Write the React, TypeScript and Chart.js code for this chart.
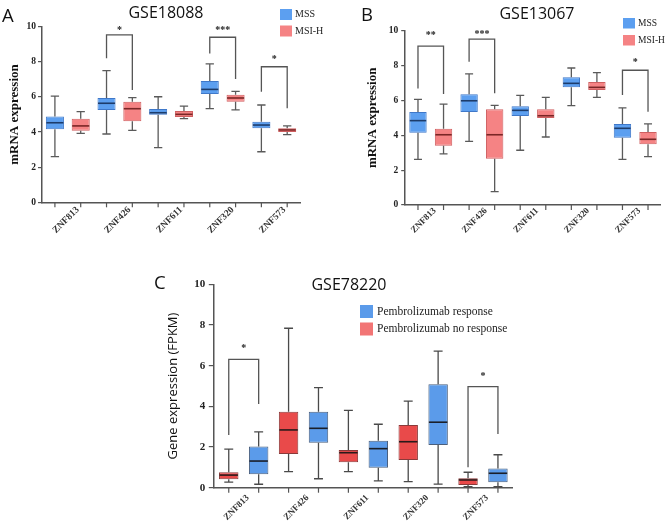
import React, { useEffect, useRef } from 'react';
import { Chart, registerables } from 'chart.js';

Chart.register(...registerables);

// ---------------- DATA ----------------
const genes = ['ZNF813', 'ZNF426', 'ZNF611', 'ZNF320', 'ZNF573'];
const yMin = 0;
const yMax = 10;
const yStep = 2;

// box statistics per gene: [min, q1, median, q3, max]
const gse18088Mss = [
  [2.6, 4.16, 4.53, 4.88, 6.05],
  [3.89, 5.26, 5.64, 5.94, 7.5],
  [3.11, 4.99, 5.1, 5.31, 6.01],
  [5.33, 6.17, 6.43, 6.91, 7.88],
  [2.88, 4.21, 4.4, 4.59, 5.54],
];
const gse18088Msi = [
  [3.93, 4.08, 4.35, 4.76, 5.16],
  [4.1, 4.61, 5.33, 5.73, 5.96],
  [4.76, 4.86, 5.01, 5.2, 5.48],
  [5.26, 5.73, 5.94, 6.13, 6.32],
  [3.85, 4.0, 4.12, 4.21, 4.35],
];
const gse13067Mss = [
  [2.62, 4.15, 4.84, 5.34, 6.06],
  [3.65, 5.34, 5.98, 6.35, 7.52],
  [3.14, 5.1, 5.43, 5.66, 6.29],
  [5.7, 6.75, 6.98, 7.33, 7.86],
  [2.62, 3.86, 4.4, 4.65, 5.57],
];
const gse13067Msi = [
  [2.93, 3.4, 4.03, 4.38, 5.79],
  [0.77, 2.66, 4.03, 5.49, 5.72],
  [3.9, 4.99, 5.12, 5.49, 6.18],
  [6.18, 6.6, 6.75, 7.06, 7.59],
  [2.77, 3.48, 3.77, 4.19, 4.65],
];
const gse78220NoResponse = [
  [0.27, 0.41, 0.62, 0.76, 1.9],
  [0.79, 1.66, 2.84, 3.74, 7.84],
  [0.79, 1.25, 1.72, 1.85, 3.8],
  [0.3, 1.36, 2.26, 3.08, 4.26],
  [0.05, 0.13, 0.38, 0.46, 0.76],
];
const gse78220Response = [
  [0.17, 0.66, 1.31, 2.03, 2.74],
  [0.44, 2.21, 2.92, 3.74, 4.92],
  [0.34, 0.98, 1.92, 2.31, 3.12],
  [0.18, 2.1, 3.22, 5.08, 6.71],
  [0.05, 0.27, 0.71, 0.95, 1.62],
];

// significance brackets: [gene index, bracket level, left leg end, right leg end, star level]
const gse18088Brackets = [
  [1, 9.53, 8.2, 6.4, 9.9],
  [3, 9.4, 8.48, 7.02, 9.9],
  [4, 7.72, 6.3, 5.35, 8.3],
];
const gse18088Stars = ['*', '***', '*'];
const gse13067Brackets = [
  [0, 9.12, 6.69, 6.37, 9.85],
  [1, 9.52, 8.22, 6.41, 9.94],
  [4, 7.73, 6.31, 5.35, 8.32],
];
const gse13067Stars = ['**', '***', '*'];
const gse78220Brackets = [
  [0, 6.31, 2.59, 4.12, 6.98],
  [4, 4.97, 1.0, 2.64, 5.59],
];
const gse78220Stars = ['*', '*'];

// ---------------- STYLES / LAYOUT ----------------
const SERIF = '"Liberation Serif", "Times New Roman", serif';
const SANS = '"Open Sans", "Liberation Sans", Arial, sans-serif';
const AXIS = '#555555';

interface SeriesDef {
  name: string;
  stats: number[][];
  fill: string;
  border: string;
  median: string;
  legendFill: string;
}

interface PanelDef {
  key: string;
  x: number; y: number; w: number; h: number;
  chartLeft: number; chartTop: number; chartRight: number; chartBottom: number;
  letter: string; letterX: number; letterY: number; letterSize: number;
  title: string; titleX: number; titleY: number;
  yTitle: string; yTitleFont: any; yTitlePad: number;
  yTickFont: any; yTickPad: number; yTickLen: number;
  xTickFont: any; xLabelOffset: number; xLabelPad: number;
  series: SeriesDef[];
  legendOrder: number[];
  legendX: number; legendY: number[]; legendSize: [number, number]; legendTextX: number; legendFont: string;
  brackets: number[][]; stars: string[];
  barPct: number;
  whisker: string;
}

const blueA = { fill: '#5c9ff0', border: '#3f78c9', median: '#1d3c6b', legendFill: '#5c9ff0' };
const redA = { fill: '#f58384', border: '#cf5f60', median: '#7a2626', legendFill: '#f58384' };

const panels: PanelDef[] = [
  {
    key: 'A', x: 0, y: 0, w: 330, h: 262,
    chartLeft: 42, chartTop: 26.7, chartRight: 300.1, chartBottom: 202.3,
    letter: 'A', letterX: 2, letterY: 22, letterSize: 18.5,
    title: 'GSE18088', titleX: 166, titleY: 17.5,
    yTitle: 'mRNA expression', yTitleFont: { family: SERIF, size: 13, weight: 'bold' }, yTitlePad: 7,
    yTickFont: { family: SERIF, size: 9.5, weight: 'bold' }, yTickPad: 2, yTickLen: 4,
    xTickFont: { family: SERIF, size: 9.5, weight: 'bold' }, xLabelOffset: 10, xLabelPad: 2,
    series: [
      { name: 'MSS', stats: gse18088Mss, ...blueA },
      { name: 'MSI-H', stats: gse18088Msi, ...redA },
    ],
    legendOrder: [0, 1],
    legendX: 280, legendY: [9, 25.5], legendSize: [12, 11], legendTextX: 295, legendFont: `10px ${SERIF}`,
    brackets: gse18088Brackets, stars: gse18088Stars,
    barPct: 0.7, whisker: '#5a5a5a',
  },
  {
    key: 'B', x: 330, y: 0, w: 339, h: 262,
    chartLeft: 75.2, chartTop: 30.7, chartRight: 330.8, chartBottom: 205,
    letter: 'B', letterX: 31, letterY: 20.5, letterSize: 18.5,
    title: 'GSE13067', titleX: 207, titleY: 18.5,
    yTitle: 'mRNA expression', yTitleFont: { family: SERIF, size: 13, weight: 'bold' }, yTitlePad: 35,
    yTickFont: { family: SERIF, size: 9.5, weight: 'bold' }, yTickPad: 3, yTickLen: 4,
    xTickFont: { family: SERIF, size: 9, weight: 'bold' }, xLabelOffset: 4, xLabelPad: 0.5,
    series: [
      { name: 'MSS', stats: gse13067Mss, ...blueA },
      { name: 'MSI-H', stats: gse13067Msi, ...redA },
    ],
    legendOrder: [0, 1],
    legendX: 293, legendY: [18, 35], legendSize: [12, 10.5], legendTextX: 308, legendFont: `9.5px ${SERIF}`,
    brackets: gse13067Brackets, stars: gse13067Stars,
    barPct: 0.68, whisker: '#5a5a5a',
  },
  {
    key: 'C', x: 150, y: 250, w: 380, h: 277,
    chartLeft: 63.8, chartTop: 34.3, chartRight: 362.9, chartBottom: 237.7,
    letter: 'C', letterX: 4, letterY: 38.5, letterSize: 18.5,
    title: 'GSE78220', titleX: 199, titleY: 40,
    yTitle: 'Gene expression (FPKM)', yTitleFont: { family: SANS, size: 13 }, yTitlePad: 15,
    yTickFont: { family: SERIF, size: 11, weight: 'bold' }, yTickPad: 3.5, yTickLen: 5,
    xTickFont: { family: SERIF, size: 9, weight: 'bold' }, xLabelOffset: 4, xLabelPad: 5,
    series: [
      { name: 'Pembrolizumab no response', stats: gse78220NoResponse, fill: '#e94a4a', border: '#8a3a3a', median: '#2a1a1a', legendFill: '#f27575' },
      { name: 'Pembrolizumab response', stats: gse78220Response, fill: '#5b9bea', border: '#4a5f7d', median: '#1a1f2a', legendFill: '#5b9bea' },
    ],
    legendOrder: [1, 0],
    legendX: 210, legendY: [55, 72.5], legendSize: [13, 13], legendTextX: 227, legendFont: `11.5px ${SERIF}`,
    brackets: gse78220Brackets, stars: gse78220Stars,
    barPct: 0.65, whisker: '#4a4a4a',
  },
];

function makePlugin(p: PanelDef) {
  return {
    id: 'boxDecor' + p.key,
    afterDatasetsDraw(chart: any) {
      const ctx = chart.ctx as CanvasRenderingContext2D;
      const ys = chart.scales.y;
      const area = chart.chartArea;
      ctx.save();
      p.series.forEach((s, di) => {
        const meta = chart.getDatasetMeta(di);
        meta.data.forEach((el: any, i: number) => {
          const st = s.stats[i];
          const cx = el.x;
          const half = el.width / 2;
          const cap = el.width * 0.23;
          const pMin = ys.getPixelForValue(st[0]);
          const pQ1 = ys.getPixelForValue(st[1]);
          const pMed = ys.getPixelForValue(st[2]);
          const pQ3 = ys.getPixelForValue(st[3]);
          const pMax = ys.getPixelForValue(st[4]);
          ctx.strokeStyle = p.whisker;
          ctx.lineWidth = 1.3;
          ctx.beginPath();
          ctx.moveTo(cx, pQ3); ctx.lineTo(cx, pMax);
          ctx.moveTo(cx - cap, pMax); ctx.lineTo(cx + cap, pMax);
          ctx.moveTo(cx, pQ1); ctx.lineTo(cx, pMin);
          ctx.moveTo(cx - cap, pMin); ctx.lineTo(cx + cap, pMin);
          ctx.stroke();
          ctx.strokeStyle = s.median;
          ctx.lineWidth = 1.6;
          ctx.beginPath();
          ctx.moveTo(cx - half + 0.5, pMed); ctx.lineTo(cx + half - 0.5, pMed);
          ctx.stroke();
          // x-axis tick mark under each box
          ctx.strokeStyle = AXIS;
          ctx.lineWidth = 1.2;
          ctx.beginPath();
          ctx.moveTo(cx, area.bottom); ctx.lineTo(cx, area.bottom + 5);
          ctx.stroke();
        });
      });
      // significance brackets
      const m0 = chart.getDatasetMeta(0);
      const m1 = chart.getDatasetMeta(1);
      p.brackets.forEach((b, k) => {
        const [gi, level, lEnd, rEnd, starLevel] = b;
        const xl = m0.data[gi].x;
        const xr = m1.data[gi].x;
        const py = ys.getPixelForValue(level);
        ctx.strokeStyle = '#555';
        ctx.lineWidth = 1.3;
        ctx.beginPath();
        ctx.moveTo(xl, ys.getPixelForValue(lEnd));
        ctx.lineTo(xl, py);
        ctx.lineTo(xr, py);
        ctx.lineTo(xr, ys.getPixelForValue(rEnd));
        ctx.stroke();
        ctx.fillStyle = '#222';
        ctx.font = `bold 10px ${SERIF}`;
        ctx.textAlign = 'center';
        ctx.textBaseline = 'alphabetic';
        const txt = p.stars[k];
        const mt = ctx.measureText(txt);
        const cy = ys.getPixelForValue(starLevel);
        ctx.fillText(txt, (xl + xr) / 2, cy + (mt.actualBoundingBoxAscent - mt.actualBoundingBoxDescent) / 2);
      });
      ctx.restore();
    },
    afterDraw(chart: any) {
      const ctx = chart.ctx as CanvasRenderingContext2D;
      ctx.save();
      ctx.fillStyle = '#111';
      ctx.textBaseline = 'alphabetic';
      ctx.textAlign = 'left';
      ctx.font = `${p.letterSize}px ${SANS}`;
      ctx.fillText(p.letter, p.letterX, p.letterY);
      ctx.textAlign = 'center';
      ctx.font = `16px ${SANS}`;
      ctx.fillText(p.title, p.titleX, p.titleY);
      // legend
      p.legendOrder.forEach((si, k) => {
        const s = p.series[si];
        const y0 = p.legendY[k];
        ctx.fillStyle = s.legendFill;
        ctx.fillRect(p.legendX, y0, p.legendSize[0], p.legendSize[1]);
        ctx.fillStyle = '#222';
        ctx.font = p.legendFont;
        ctx.textAlign = 'left';
        ctx.textBaseline = 'middle';
        ctx.fillText(s.name, p.legendTextX, y0 + p.legendSize[1] / 2);
      });
      ctx.restore();
    },
  };
}

function buildConfig(p: PanelDef): any {
  return {
    type: 'bar',
    data: {
      labels: genes,
      datasets: p.series.map((s) => ({
        label: s.name,
        data: s.stats.map((st) => [st[1], st[3]]),
        backgroundColor: s.fill,
        borderColor: s.border,
        borderWidth: 1,
        borderSkipped: false,
        barPercentage: p.barPct,
        categoryPercentage: 1,
      })),
    },
    options: {
      responsive: false,
      maintainAspectRatio: false,
      animation: false,
      devicePixelRatio: 1,
      events: [],
      layout: { padding: { left: 0, top: p.chartTop, right: p.w - p.chartRight, bottom: 0 } },
      plugins: {
        legend: { display: false },
        tooltip: { enabled: false },
        title: { display: false },
      },
      scales: {
        x: {
          type: 'category',
          offset: true,
          grid: { display: false, drawTicks: false },
          border: { display: true, color: AXIS, width: 1.5 },
          ticks: {
            autoSkip: false,
            minRotation: 45,
            maxRotation: 45,
            padding: p.xLabelPad,
            labelOffset: p.xLabelOffset,
            color: '#333',
            font: p.xTickFont,
          },
          afterFit: (scale: any) => { scale.height = p.h - p.chartBottom; },
        },
        y: {
          type: 'linear',
          min: yMin,
          max: yMax,
          grid: { display: true, drawOnChartArea: false, drawTicks: true, tickLength: p.yTickLen, color: AXIS, lineWidth: 1.2 },
          border: { display: true, color: AXIS, width: 1.5 },
          ticks: { stepSize: yStep, padding: p.yTickPad, color: '#222', font: p.yTickFont },
          title: { display: true, text: p.yTitle, color: '#111', font: p.yTitleFont, padding: { top: p.yTitlePad, bottom: 0 } },
          afterFit: (scale: any) => { scale.width = p.chartLeft; },
        },
      },
    },
    plugins: [makePlugin(p)],
  };
}

function Panel({ def }: { def: PanelDef }) {
  const ref = useRef<HTMLCanvasElement>(null);
  useEffect(() => {
    if (!ref.current) return;
    const chart = new Chart(ref.current, buildConfig(def));
    return () => chart.destroy();
  }, [def]);
  return (
    <canvas
      ref={ref}
      width={def.w}
      height={def.h}
      style={{ position: 'absolute', left: def.x, top: def.y, width: def.w, height: def.h }}
    />
  );
}

export default function App() {
  return (
    <div style={{ position: 'absolute', left: 0, top: 0, width: 669, height: 527, background: '#ffffff', overflow: 'hidden' }}>
      {panels.map((p) => (
        <Panel key={p.key} def={p} />
      ))}
    </div>
  );
}
